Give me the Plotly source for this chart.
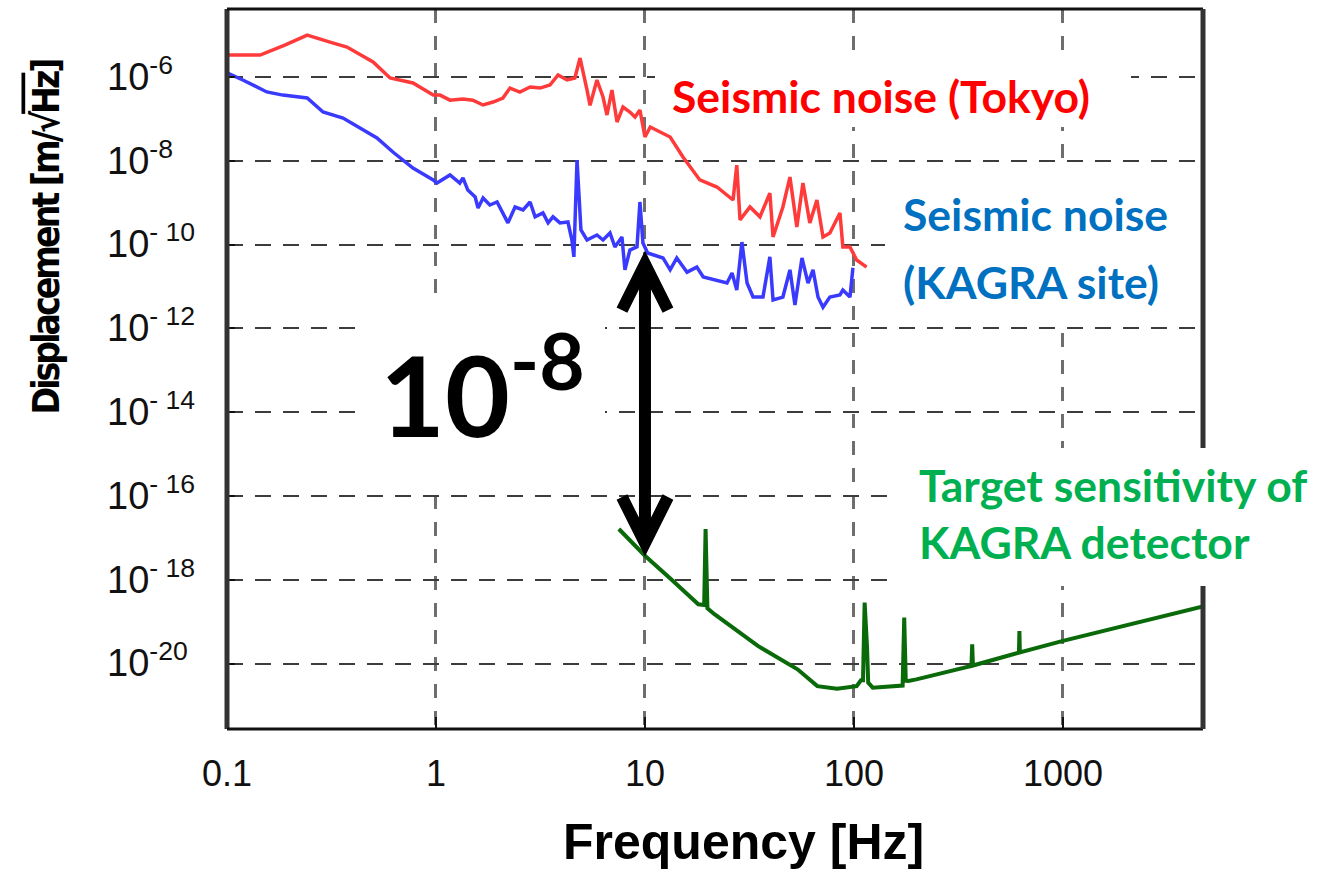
import numpy as np
import plotly.graph_objects as go

# ---------------- data ----------------
red_f = [0.1, 0.144, 0.189, 0.242, 0.311, 0.375, 0.5, 0.603, 0.776, 0.97, 1.045, 1.167, 1.346, 1.5,
         1.68, 1.875, 2.09, 2.26, 2.52, 2.82, 3.15, 3.51, 3.84, 4.24, 4.62, 4.89, 5.28, 5.46, 5.89, 6.3,
         6.58, 6.95, 7.35, 7.85, 8.47, 8.96, 9.46, 10.0, 10.6, 13.2, 15.2, 18.3, 22.1, 26.4, 27.5, 28.5,
         31.8, 35.5, 39.6, 41, 45.7, 49.4, 53.3, 57, 61.5, 66.5, 71.1, 76.7, 85.7, 88.5, 95.7, 103, 115]
red_v = [3.35e-6, 3.35e-6, 5.8e-6, 1.0e-5, 6.8e-6, 5.2e-6, 2.28e-6, 9.5e-7, 7.2e-7, 3.7e-7, 3.7e-7,
         2.8e-7, 3.0e-7, 2.8e-7, 2.15e-7, 2.53e-7, 3.15e-7, 5.45e-7, 4.38e-7, 5.77e-7, 5.45e-7, 6.44e-7,
         1.12e-6, 8.5e-7, 9.5e-7, 2.84e-6, 4.9e-7, 2.1e-7, 8.5e-7, 3.33e-7, 1.24e-7, 4.9e-7, 8.4e-8,
         1.92e-7, 1.46e-7, 1.11e-7, 1.63e-7, 3.7e-8, 6.4e-8, 3.7e-8, 1.23e-8, 3.5e-9, 2.37e-9, 1.16e-9,
         7.9e-9, 3.9e-10, 7.9e-10, 4.6e-10, 1.7e-9, 1.52e-10, 7.9e-10, 4.1e-9, 2.63e-10, 2.95e-9, 3.3e-10,
         1.16e-9, 1.52e-10, 1.9e-10, 5.7e-10, 8.8e-11, 8.8e-11, 4.3e-11, 2.9e-11]

blue_f = [0.1, 0.119, 0.155, 0.185, 0.242, 0.288, 0.359, 0.432, 0.522, 0.622,
          0.776, 0.97, 1.01, 1.167, 1.30, 1.346, 1.42, 1.54, 1.59, 1.68,
          1.81, 1.96, 2.09, 2.21, 2.39, 2.61, 2.82, 2.98, 3.25, 3.44,
          3.63, 3.92, 4.28, 4.47, 4.57, 4.73, 4.94, 5.28, 5.89, 6.3,
          6.8, 7.18, 7.76, 8.02, 8.47, 9.16, 9.46, 9.78, 10.3, 12.2,
          13.2, 14.2, 15.9, 17.7, 19, 22.1, 24.7, 26.1, 27.5, 29.1,
          30.8, 32.9, 36.7, 39.6, 41, 45.7, 49.4, 52.2, 56.4, 60.3,
          63.7, 67.3, 71.1, 76.7, 85.7, 88.5, 95.7, 98.9]
blue_v = [1.25e-6, 8.5e-7, 4.4e-7, 3.7e-7, 3.15e-7, 1.46e-7, 1.05e-7, 6.1e-8, 3.5e-8, 1.62e-8,
          6.7e-9, 3.5e-9, 2.95e-9, 4.6e-9, 2.95e-9, 3.9e-9, 2.0e-9, 1.37e-9, 7.5e-10, 1.3e-9,
          8.8e-10, 1.04e-9, 5.7e-10, 3.3e-10, 7.9e-10, 6.7e-10, 1.04e-9, 4.6e-10, 5.7e-10, 3.3e-10,
          4.6e-10, 3.3e-10, 3.46e-10, 1.29e-10, 5.1e-11, 1.04e-8, 2.23e-10, 1.29e-10, 1.7e-10, 1.29e-10,
          1.9e-10, 8.8e-11, 1.52e-10, 2.5e-11, 7.4e-11, 8.8e-11, 1.04e-9, 1.09e-10, 6.3e-11, 4.8e-11,
          2.5e-11, 4.8e-11, 2.2e-11, 2.9e-11, 1.69e-11, 1.43e-11, 1.21e-11, 2.1e-11, 8.2e-12, 1.15e-10,
          1.21e-11, 5.6e-12, 5.6e-12, 5.1e-11, 4.8e-12, 5.6e-12, 2.5e-11, 3.6e-12, 4.8e-11, 1.21e-11,
          2.5e-11, 5.6e-12, 3.2e-12, 5.6e-12, 6.3e-12, 8.2e-12, 5.6e-12, 2.8e-11]

green_f = [7.5, 10, 13.3, 18.0, 19.2, 19.5, 19.9, 21.5, 34.7, 53.7, 66.8, 83, 103, 108, 110.5, 112.5,
           115.5, 117, 123, 167, 171, 174, 177, 182, 199, 365, 368, 371, 616, 619, 622, 1000, 4680]
green_v = [1.63e-17, 3.75e-18, 1.04e-18, 2.6e-19, 2.5e-19, 1.63e-17, 2.1e-19, 1.51e-19, 2.64e-20,
           7.3e-21, 2.9e-21, 2.5e-21, 2.9e-21, 4.0e-21, 4.0e-21, 2.87e-19, 2.5e-20, 3.5e-21, 2.67e-21,
           2.9e-21, 3.0e-21, 1.26e-19, 3.9e-21, 3.86e-21, 4.2e-21, 8.8e-21, 2.9e-20, 9.0e-21, 1.83e-20,
           6.0e-20, 1.85e-20, 3.48e-20, 2.3e-19]

x_tick_vals = [0.1, 1, 10, 100, 1000]
x_tick_text = ["0.1", "1", "10", "100", "1000"]
y_tick_vals = [1e-6, 1e-8, 1e-10, 1e-12, 1e-14, 1e-16, 1e-18, 1e-20]
y_tick_text = ["10<sup>-6</sup>", "10<sup>-8</sup>", "10<sup>- 10</sup>", "10<sup>- 12</sup>",
               "10<sup>- 14</sup>", "10<sup>- 16</sup>", "10<sup>- 18</sup>", "10<sup>-20</sup>"]

# arrow between KAGRA-site seismic noise and target sensitivity at 10 Hz
arrow_f = 10
arrow_top = 7.4e-11
arrow_bottom = 3.5e-18
arrow_shaft_top = 3.6e-11
arrow_shaft_bottom = 7.1e-18

# ---------------- layout geometry ----------------
W, H = 1330, 873
ML, MR, MT, MB = 227, 127, 9, 144
PW, PH = W - ML - MR, H - MT - MB
X_RANGE = [np.log10(0.1), np.log10(4680)]
Y_RANGE = [np.log10(2.75e-22), np.log10(4.2e-5)]


def px_x(px):
    return (px - ML) / PW


def px_y(py):
    return (H - MB - py) / PH


RED = "#ff3a3a"
BLUE = "#3a3aff"
GREEN = "#0a6a0a"

fig = go.Figure()
fig.add_trace(go.Scatter(x=red_f, y=red_v, mode="lines", line=dict(color=RED, width=3.5), showlegend=False,
                         hoverinfo="skip"))
fig.add_trace(go.Scatter(x=blue_f, y=blue_v, mode="lines", line=dict(color=BLUE, width=3.5), showlegend=False,
                         hoverinfo="skip"))
fig.add_trace(go.Scatter(x=green_f, y=green_v, mode="lines", line=dict(color=GREEN, width=4),
                         showlegend=False, hoverinfo="skip"))

shapes = []
# white boxes behind the text (they hide the grid lines there)
for (x0, y0, x1, y1) in [(655, 58, 1131, 127), (885, 168, 1198, 322), (898, 448, 1330, 586),
                         (360, 300, 605, 493)]:
    shapes.append(dict(type="rect", xref="paper", yref="paper", x0=px_x(x0), x1=px_x(x1),
                       y0=px_y(y1), y1=px_y(y0), fillcolor="white", line=dict(width=0), layer="above"))
# frame
shapes.append(dict(type="line", xref="paper", yref="paper", x0=0, x1=0, y0=0, y1=1,
                   line=dict(color="#333333", width=5), layer="above"))
shapes.append(dict(type="line", xref="paper", yref="paper", x0=0, x1=1, y0=1, y1=1,
                   line=dict(color="#111111", width=3), layer="above"))
shapes.append(dict(type="line", xref="paper", yref="paper", x0=0, x1=1, y0=0, y1=0,
                   line=dict(color="#111111", width=3), layer="above"))
shapes.append(dict(type="line", xref="paper", yref="paper", x0=1, x1=1, y0=0, y1=px_y(586),
                   line=dict(color="#333333", width=5), layer="above"))
shapes.append(dict(type="line", xref="paper", yref="paper", x0=1, x1=1, y0=px_y(448), y1=1,
                   line=dict(color="#333333", width=5), layer="above"))
# double arrow
shapes.append(dict(type="line", xref="x", yref="y", x0=arrow_f, x1=arrow_f, y0=arrow_shaft_bottom,
                   y1=arrow_shaft_top, line=dict(color="black", width=12), layer="above"))
shapes.append(dict(type="path", xref="x", yref="y", xsizemode="pixel", ysizemode="pixel",
                   xanchor=arrow_f, yanchor=arrow_top, path="M -23,-60 L 0,-14 L 23,-60",
                   line=dict(color="black", width=12), layer="above"))
shapes.append(dict(type="path", xref="x", yref="y", xsizemode="pixel", ysizemode="pixel",
                   xanchor=arrow_f, yanchor=arrow_bottom, path="M -23,60 L 0,14 L 23,60",
                   line=dict(color="black", width=12), layer="above"))

annotations = []
# y tick labels (left aligned, as in the reference)
for v, t in zip(y_tick_vals, y_tick_text):
    annotations.append(dict(text=t, xref="paper", yref="y", x=px_x(105), y=np.log10(v),
                            xanchor="left", yanchor="bottom", yshift=-22.7, showarrow=False,
                            font=dict(family="Liberation Sans, Arial, sans-serif", size=38, color="#111111")))

LATO = "Lato, Open Sans, sans-serif"


def label(text, left_px, baseline_px, size, color):
    bottom = baseline_px + 0.213 * size + 1
    return dict(text=text, xref="paper", yref="paper", x=px_x(left_px), y=px_y(bottom),
                xanchor="left", yanchor="bottom", showarrow=False,
                font=dict(family=LATO, size=size, color=color, weight="bold"))


annotations.append(label("Seismic noise (Tokyo)", 670, 114, 44.5, "#ff0000"))
annotations.append(label("Seismic noise", 901, 232, 44.5, "#0070c0"))
annotations.append(label("(KAGRA site)", 901, 300, 44.5, "#0070c0"))
annotations.append(label("Target sensitivity of", 917, 503, 44.5, "#00b050"))
annotations.append(label("KAGRA detector", 917, 560, 44.5, "#00b050"))
annotations.append(label("10<sup>-8</sup>", 378, 438, 112, "#000000"))

# axis titles
annotations.append(dict(text="Frequency [Hz]", xref="paper", yref="paper", x=px_x(743.5),
                        y=px_y(860 + 0.212 * 50 + 1), xanchor="center", yanchor="bottom", showarrow=False,
                        font=dict(family="Liberation Sans, Arial, sans-serif", size=50, color="#000000",
                                  weight="bold")))
annotations.append(dict(text="<span style='letter-spacing:-3px'>Displacement [m/√"
                             "<span style='text-decoration:overline'>Hz</span>]</span>",
                        xref="paper", yref="paper", x=px_x(46), y=px_y(237.5), xanchor="center",
                        yanchor="middle", textangle=-90, showarrow=False,
                        font=dict(family="DejaVu Sans Condensed, Liberation Sans Narrow, Liberation Sans, Arial",
                                  size=37, color="#000000", weight="bold")))

fig.update_layout(
    width=W, height=H, autosize=False,
    margin=dict(l=ML, r=MR, t=MT, b=MB, pad=0),
    paper_bgcolor="white", plot_bgcolor="white",
    shapes=shapes, annotations=annotations, showlegend=False,
    xaxis=dict(type="log", range=X_RANGE, tickvals=x_tick_vals, ticktext=x_tick_text,
               showgrid=True, gridcolor="#6e6e6e", gridwidth=3, griddash="14px,13px",
               ticks="inside", ticklen=12, tickwidth=2, tickcolor="#111111",
               tickfont=dict(family="Liberation Sans, Arial, sans-serif", size=36, color="#111111"),
               ticklabelstandoff=20, showline=False, zeroline=False, fixedrange=True),
    yaxis=dict(type="log", range=Y_RANGE, tickvals=y_tick_vals, showticklabels=False,
               showgrid=True, gridcolor="#3c3c3c", gridwidth=2, griddash="16px,12px",
               ticks="inside", ticklen=8, tickwidth=2, tickcolor="#111111",
               showline=False, zeroline=False, fixedrange=True),
)

fig.write_html("out.html")
